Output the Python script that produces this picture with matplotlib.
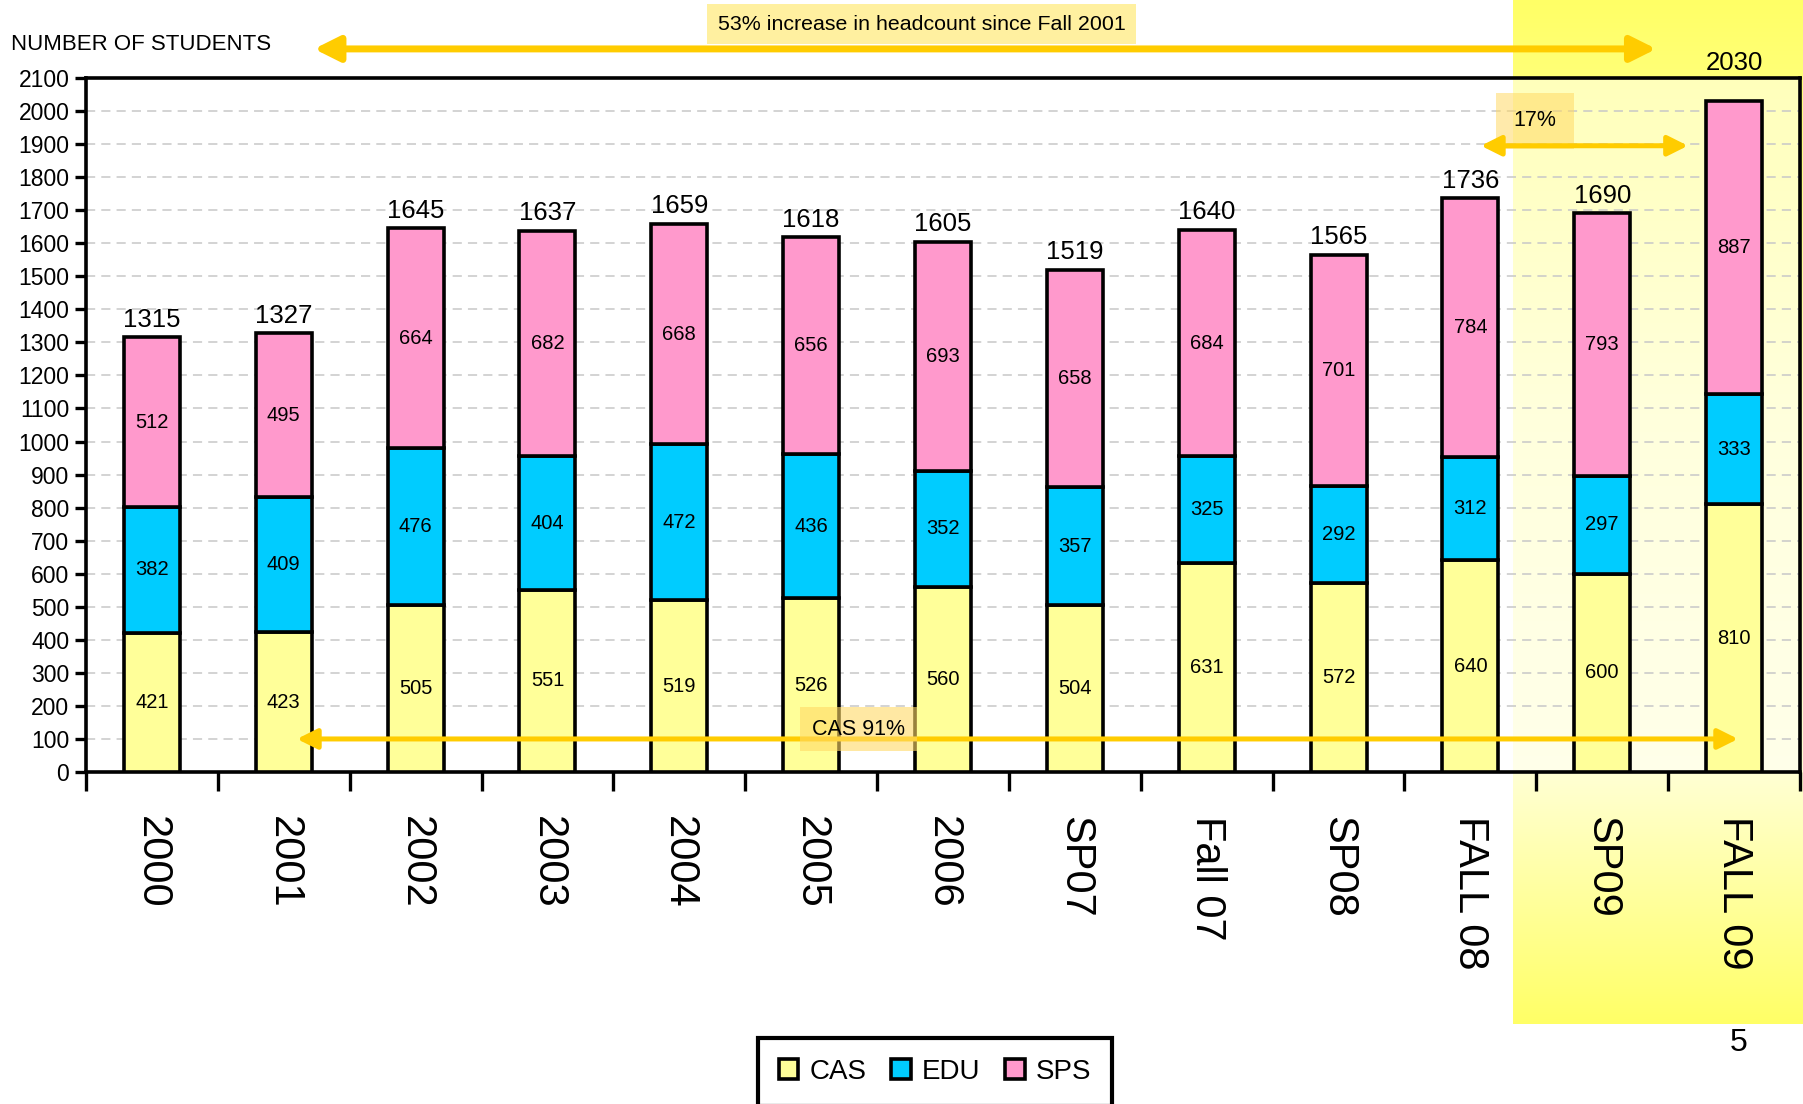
import numpy as np
import matplotlib
matplotlib.use('Agg')
import matplotlib.pyplot as plt
from matplotlib.patches import Patch

# ---------------- data ----------------
categories = ['2000', '2001', '2002', '2003', '2004', '2005', '2006',
              'SP07', 'Fall 07', 'SP08', 'FALL 08', 'SP09', 'FALL 09']
cas = [421, 423, 505, 551, 519, 526, 560, 504, 631, 572, 640, 600, 810]
edu = [382, 409, 476, 404, 472, 436, 352, 357, 325, 292, 312, 297, 333]
sps = [512, 495, 664, 682, 668, 656, 693, 658, 684, 701, 784, 793, 887]
totals = [1315, 1327, 1645, 1637, 1659, 1618, 1605, 1519, 1640, 1565, 1736, 1690, 2030]
series_names = ['CAS', 'EDU', 'SPS']
yticks = list(range(0, 2101, 100))

colors = ['#FFFF99', '#00CCFF', '#FF99CC']
NARROW = ['Liberation Sans Narrow', 'Liberation Sans', 'DejaVu Sans']
REGULAR = ['Liberation Sans', 'DejaVu Sans']
plt.rcParams['font.family'] = REGULAR

W, H = 1803, 1104
fig = plt.figure(figsize=(W / 100, H / 100), dpi=100)

# ---------------- highlight gradient (background) ----------------
gx0, gx1, gy1 = 1513, 1803, 1024
gax = fig.add_axes([gx0 / W, 1 - gy1 / H, (gx1 - gx0) / W, gy1 / H], zorder=0)
prof_y = [0, 70, 420, 772, 1024]
prof_a = [1.0, 0.9, 0.45, 0.28, 1.0]
yy = np.linspace(0, gy1, 1024)
a = np.interp(yy, prof_y, prof_a)
base = np.array([1.0, 1.0, 0.4])
white = np.ones(3)
img = (white[None, :] * (1 - a[:, None]) + base[None, :] * a[:, None])[:, None, :]
gax.imshow(img, aspect='auto', extent=[0, 1, 0, 1], origin='upper')
gax.axis('off')

# ---------------- main axes ----------------
ax = fig.add_axes([86 / W, 1 - 772 / H, (1800 - 86) / W, (772 - 78) / H], zorder=1)
ax.patch.set_facecolor('white')
ax.patch.set_alpha(0.5)

x = np.arange(len(categories))
bw = 0.425
elw = 2.6
cas_a = np.array(cas)
edu_a = np.array(edu)
b1 = ax.bar(x, cas, bw, color=colors[0], edgecolor='black', linewidth=elw, zorder=3)
b2 = ax.bar(x, edu, bw, bottom=cas_a, color=colors[1], edgecolor='black', linewidth=elw, zorder=3)
b3 = ax.bar(x, sps, bw, bottom=cas_a + edu_a, color=colors[2], edgecolor='black', linewidth=elw, zorder=3)

for b in (b1, b2, b3):
    ax.bar_label(b, label_type='center', fontsize=14.5, zorder=4)

pads = [4] * len(totals)
pads[-1] = 19
for rect, t, p in zip(b3, totals, pads):
    ax.annotate(str(t), (rect.get_x() + rect.get_width() / 2, rect.get_y() + rect.get_height()),
                xytext=(0, p), textcoords='offset points', ha='center', va='bottom',
                fontsize=18.5, annotation_clip=False, zorder=4)

ax.set_xlim(-0.5, len(categories) - 0.5)
ax.set_ylim(0, 2100)
ax.set_yticks(yticks)
ax.set_yticklabels([str(v) for v in yticks], family=NARROW, fontsize=16.5)
ax.set_xticks(x)
ax.set_xticklabels(categories, rotation=270, fontsize=30, family=NARROW, va='top', ha='center')
ax.set_xticks(np.arange(-0.5, len(categories)), minor=True)
ax.tick_params(axis='x', which='major', length=0, pad=32)
ax.tick_params(axis='x', which='minor', length=14, width=2.4, direction='out')
ax.tick_params(axis='y', length=8, width=2.4, direction='out', pad=4)

ax.yaxis.grid(True, color='#C8C8C8', linestyle=(0, (6, 4)), linewidth=1.1)
ax.set_axisbelow(True)
for s in ax.spines.values():
    s.set_linewidth(2.6)
    s.set_color('black')

# ---------------- annotations ----------------
ycol = '#FFCC00'
# top arrow
ax.annotate('', xy=(11.41, 2188), xytext=(1.23, 2188),
            arrowprops=dict(arrowstyle='<|-|>', color=ycol, lw=5, mutation_scale=38,
                            shrinkA=0, shrinkB=0),
            annotation_clip=False, zorder=5)
ax.text(5.84, 2263, '53% increase in headcount since Fall 2001', fontsize=15.4,
        ha='center', va='center', clip_on=False, zorder=6,
        bbox=dict(boxstyle='square,pad=0.5', facecolor='#FFF0A0', edgecolor='none'))

# 17% arrow
ax.annotate('', xy=(11.65, 1895), xytext=(10.08, 1895),
            arrowprops=dict(arrowstyle='<|-|>', color=ycol, lw=3.6, mutation_scale=30,
                            shrinkA=0, shrinkB=0),
            annotation_clip=False, zorder=6)
ax.text(10.49, 1970, '17%', fontsize=15.5, ha='center', va='center', zorder=5,
        bbox=dict(boxstyle='square,pad=0.8', facecolor='#FFD966', alpha=0.55, edgecolor='none'))

# CAS arrow
ax.annotate('', xy=(1.10, 100), xytext=(12.03, 100),
            arrowprops=dict(arrowstyle='<|-|>', color=ycol, lw=3.6, mutation_scale=30,
                            shrinkA=0, shrinkB=0),
            annotation_clip=False, zorder=6)
ax.text(5.36, 130, 'CAS 91%', fontsize=15.5, ha='center', va='center', zorder=7,
        bbox=dict(boxstyle='square,pad=0.55', facecolor='#FFD966', alpha=0.6, edgecolor='none'))

# ---------------- figure texts ----------------
fig.text(11 / W, 1 - 45 / H, 'NUMBER OF STUDENTS', fontsize=16, family=NARROW, va='center', ha='left')
fig.text(1739 / W, 1 - 1043 / H, '5', fontsize=23, ha='center', va='center')

handles = [Patch(facecolor=c, edgecolor='black', linewidth=2.6) for c in colors]
leg = fig.legend(handles, series_names, loc='upper left', bbox_to_anchor=(758 / W, 1 - 1038 / H),
                 ncol=3, prop={'family': NARROW, 'size': 20}, frameon=True, fancybox=False,
                 edgecolor='black', handlelength=0.7, handleheight=0.7, handletextpad=0.4,
                 columnspacing=0.9, borderpad=0.75, borderaxespad=0)
leg.get_frame().set_linewidth(3)
leg.get_frame().set_alpha(1)

fig.savefig('out.png', dpi=100)
